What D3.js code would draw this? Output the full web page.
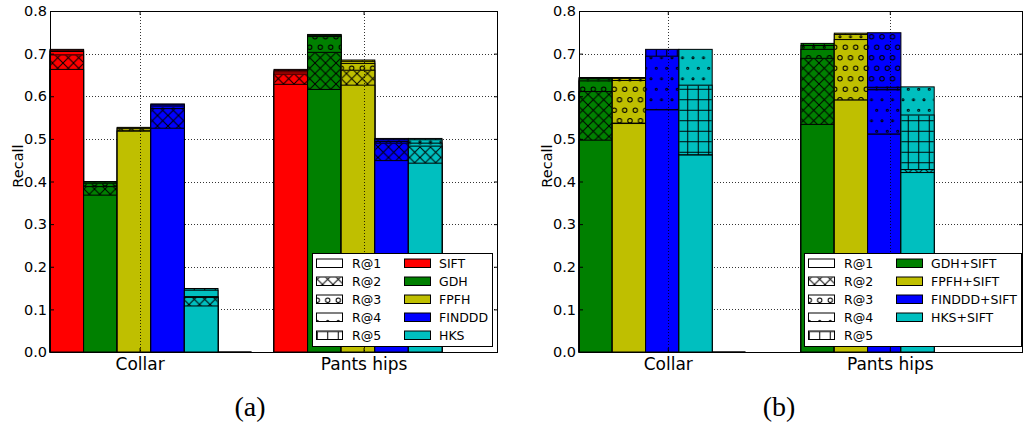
<!DOCTYPE html>
<html>
<head>
<meta charset="utf-8">
<script src="https://cdn.jsdelivr.net/npm/d3@7"></script>
<style>
  html, body { margin: 0; padding: 0; background: #fff; }
  svg text { font-family: "DejaVu Sans", sans-serif; fill: #000; }
</style>
</head>
<body>
<svg id="chart" width="1026" height="426"></svg>
<script>
// ---- data ----
var categories = ['Collar', 'Pants hips'];
var recallLabels = ['R@1', 'R@2', 'R@3', 'R@4', 'R@5'];
var yTicks = [0, 0.1, 0.2, 0.3, 0.4, 0.5, 0.6, 0.7, 0.8];

var methodsA = ['SIFT', 'GDH', 'FPFH', 'FINDDD', 'HKS'];
var colorsA = ['#ff0000', '#008000', '#bfbf00', '#0000ff', '#00bfbf'];
// recall at 1..5, one row per method
var collarA = [
  [0.663, 0.697, 0.705, 0.708, 0.710],
  [0.368, 0.388, 0.396, 0.399, 0.400],
  [0.518, 0.519, 0.524, 0.526, 0.527],
  [0.525, 0.571, 0.577, 0.580, 0.582],
  [0.108, 0.128, 0.130, 0.145, 0.149]
];
var pantsA = [
  [0.628, 0.652, 0.657, 0.660, 0.663],
  [0.616, 0.703, 0.740, 0.743, 0.745],
  [0.626, 0.661, 0.677, 0.682, 0.685],
  [0.449, 0.490, 0.494, 0.498, 0.501],
  [0.443, 0.483, 0.490, 0.498, 0.501]
];
var zeroSlotA = 5;

var methodsB = ['GDH+SIFT', 'FPFH+SIFT', 'FINDDD+SIFT', 'HKS+SIFT'];
var colorsB = ['#008000', '#bfbf00', '#0000ff', '#00bfbf'];
var collarB = [
  [0.497, 0.611, 0.636, 0.641, 0.644],
  [0.536, 0.537, 0.637, 0.642, 0.644],
  [0.568, 0.568, 0.568, 0.694, 0.710],
  [0.462, 0.462, 0.462, 0.710, 0.626]
];
var pantsB = [
  [0.534, 0.689, 0.710, 0.719, 0.724],
  [0.591, 0.591, 0.733, 0.745, 0.748],
  [0.511, 0.511, 0.749, 0.615, 0.621],
  [0.421, 0.428, 0.428, 0.622, 0.556]
];
var zeroSlotB = 4;

// ---- layout ----
var axisTop = 11;
var axisBottom = 352;
var barWidth = 0.15;
var tickOffset = 0.4;

var svg = d3.select('#chart');
var defs = svg.append('defs');

// hatch patterns, anchored to the page like matplotlib does
var hp = 10.5;
var hatchX = defs.append('pattern').attr('id', 'hatch-1')
  .attr('patternUnits', 'userSpaceOnUse').attr('width', hp).attr('height', hp);
hatchX.append('path')
  .attr('d', 'M-1,-1L' + (hp + 1) + ',' + (hp + 1) + 'M' + (hp + 1) + ',-1L-1,' + (hp + 1))
  .attr('stroke', '#000').attr('stroke-width', 1).attr('fill', 'none');

function circlePattern(id, r) {
  var p = defs.append('pattern').attr('id', id)
    .attr('patternUnits', 'userSpaceOnUse').attr('width', hp).attr('height', hp * 2);
  [[hp / 2, hp / 2], [0, hp * 1.5], [hp, hp * 1.5]].forEach(function(c) {
    p.append('circle').attr('cx', c[0]).attr('cy', c[1]).attr('r', r)
      .attr('fill', 'none').attr('stroke', '#000').attr('stroke-width', 1);
  });
}
circlePattern('hatch-2', 2.2);
circlePattern('hatch-3', 1.0);

var hatchPlus = defs.append('pattern').attr('id', 'hatch-4')
  .attr('patternUnits', 'userSpaceOnUse').attr('width', hp).attr('height', hp);
hatchPlus.append('path')
  .attr('d', 'M' + hp / 2 + ',0V' + hp + 'M0,' + hp / 2 + 'H' + hp)
  .attr('stroke', '#000').attr('stroke-width', 1).attr('fill', 'none');

function hatchFill(k) {
  return k === 0 ? 'none' : 'url(#hatch-' + k + ')';
}

function drawPanel(opts) {
  var g = svg.append('g');
  var x = d3.scaleLinear().domain([0, 2]).range([opts.left, opts.right]);
  var y = d3.scaleLinear().domain([0, 0.8]).range([axisBottom, axisTop]);
  var bw = x(barWidth) - x(0);

  // horizontal grid behind bars
  g.append('g').selectAll('line')
    .data(yTicks)
    .enter().append('line')
      .attr('x1', opts.left).attr('x2', opts.right)
      .attr('y1', function(d) { return Math.round(y(d)) + 0.5; })
      .attr('y2', function(d) { return Math.round(y(d)) + 0.5; })
      .attr('stroke', '#000').attr('stroke-width', 0.8)
      .attr('stroke-dasharray', '1,2');

  // bars: every recall level drawn from 0, taller ones behind
  var groups = [opts.collar, opts.pants];
  var bars = g.append('g');
  groups.forEach(function(rows, gi) {
    rows.forEach(function(vals, mi) {
      var order = d3.range(vals.length).sort(function(a, b) {
        return vals[b] - vals[a] || b - a;
      });
      var bx = x(gi + mi * barWidth);
      order.forEach(function(k) {
        bars.append('rect')
          .attr('x', bx).attr('width', bw)
          .attr('y', y(vals[k])).attr('height', y(0) - y(vals[k]))
          .attr('fill', opts.colors[mi])
          .attr('stroke', '#000').attr('stroke-width', 1);
        if (k > 0) {
          bars.append('rect')
            .attr('x', bx + 0.5).attr('width', bw - 1)
            .attr('y', y(vals[k]) + 0.5).attr('height', Math.max(0, y(0) - y(vals[k]) - 1))
            .attr('fill', hatchFill(k));
        }
      });
    });
  });
  // empty slot in the collar group
  bars.append('line')
    .attr('x1', x(opts.zeroSlot * barWidth)).attr('x2', x((opts.zeroSlot + 1) * barWidth))
    .attr('y1', y(0)).attr('y2', y(0))
    .attr('stroke', '#000').attr('stroke-width', 1.5);

  // vertical grid at categories
  g.append('g').selectAll('line')
    .data(categories)
    .enter().append('line')
      .attr('x1', function(d, i) { return Math.round(x(i + tickOffset)) + 0.5; })
      .attr('x2', function(d, i) { return Math.round(x(i + tickOffset)) + 0.5; })
      .attr('y1', axisTop).attr('y2', axisBottom)
      .attr('stroke', '#000').attr('stroke-width', 0.8)
      .attr('stroke-dasharray', '1,2');

  // axes, ticks pointing inwards
  var yl = g.append('g').attr('transform', 'translate(' + opts.left + ',0)')
    .call(d3.axisLeft(y).tickValues(yTicks).tickFormat(d3.format('.1f'))
      .tickSizeInner(-4).tickSizeOuter(0).tickPadding(3));
  var yr = g.append('g').attr('transform', 'translate(' + opts.right + ',0)')
    .call(d3.axisRight(y).tickValues(yTicks).tickFormat('')
      .tickSizeInner(-4).tickSizeOuter(0));
  var catAxis = d3.axisBottom(x).tickValues([tickOffset, 1 + tickOffset])
    .tickFormat(function(d, i) { return categories[i]; })
    .tickSizeInner(-4).tickSizeOuter(0).tickPadding(6);
  var xb = g.append('g').attr('transform', 'translate(0,' + axisBottom + ')').call(catAxis);
  var xt = g.append('g').attr('transform', 'translate(0,' + axisTop + ')')
    .call(d3.axisTop(x).tickValues([tickOffset, 1 + tickOffset]).tickFormat('')
      .tickSizeInner(-4).tickSizeOuter(0));
  [yl, yr, xb, xt].forEach(function(a) {
    a.select('.domain').remove();
    a.selectAll('.tick line').attr('stroke', '#000');
  });
  yl.selectAll('.tick text').attr('font-size', 14.5).attr('font-family', 'DejaVu Sans');
  xb.selectAll('.tick text').attr('font-size', 17).attr('font-family', 'DejaVu Sans')
    .attr('dy', '0.71em');

  // frame
  g.append('rect')
    .attr('x', opts.left + 0.5).attr('y', axisTop + 0.5)
    .attr('width', opts.right - opts.left - 1).attr('height', axisBottom - axisTop)
    .attr('fill', 'none').attr('stroke', '#000').attr('stroke-width', 1);

  // y label
  g.append('text')
    .attr('transform', 'translate(' + (opts.left - 27) + ',166) rotate(-90)')
    .attr('text-anchor', 'middle')
    .attr('font-size', 14.5)
    .text('Recall');

  // legend
  var rowH = 18;
  var lg = g.append('g');
  var box = lg.append('rect').attr('fill', '#fff').attr('stroke', '#000').attr('stroke-width', 1);
  var items = lg.append('g');
  var maxW = 0;
  recallLabels.forEach(function(lab, k) {
    var cy = 10 + k * rowH;
    items.append('rect').attr('x', 4.5).attr('y', cy - 4).attr('width', 26).attr('height', 8.5)
      .attr('fill', '#fff').attr('stroke', '#000');
    if (k > 0) {
      items.append('rect').attr('x', 5).attr('y', cy - 3.5).attr('width', 25).attr('height', 7.5)
        .attr('fill', hatchFill(k));
    }
    items.append('text').attr('x', 40).attr('y', cy).attr('dy', '0.36em')
      .attr('font-size', 12.5).text(lab);
  });
  opts.methods.forEach(function(m, i) {
    var cy = 10 + i * rowH;
    items.append('rect').attr('x', 92.5).attr('y', cy - 4).attr('width', 26).attr('height', 8.5)
      .attr('fill', opts.colors[i]).attr('stroke', '#000');
    var t = items.append('text').attr('x', 127).attr('y', cy).attr('dy', '0.36em')
      .attr('font-size', 12.5).text(m);
    maxW = Math.max(maxW, t.node().getComputedTextLength());
  });
  var lw = 127 + maxW + 4;
  var lh = 93;
  var lx = opts.right - opts.legendPad - lw;
  var ly = axisBottom - 6 - lh;
  lg.attr('transform', 'translate(' + Math.round(lx) + ',' + Math.round(ly) + ')');
  box.attr('x', 0.5).attr('y', 0.5).attr('width', Math.round(lw)).attr('height', lh);

  // caption
  g.append('text')
    .attr('x', opts.left + 200).attr('y', 416)
    .attr('text-anchor', 'middle')
    .style('font-family', 'Liberation Serif, serif')
    .attr('font-size', 28)
    .text(opts.caption);
}

drawPanel({
  left: 50, right: 498,
  methods: methodsA, colors: colorsA,
  collar: collarA, pants: pantsA, zeroSlot: zeroSlotA,
  legendPad: 6, caption: '(a)'
});
drawPanel({
  left: 579, right: 1023,
  methods: methodsB, colors: colorsB,
  collar: collarB, pants: pantsB, zeroSlot: zeroSlotB,
  legendPad: 2, caption: '(b)'
});
</script>
</body>
</html>
